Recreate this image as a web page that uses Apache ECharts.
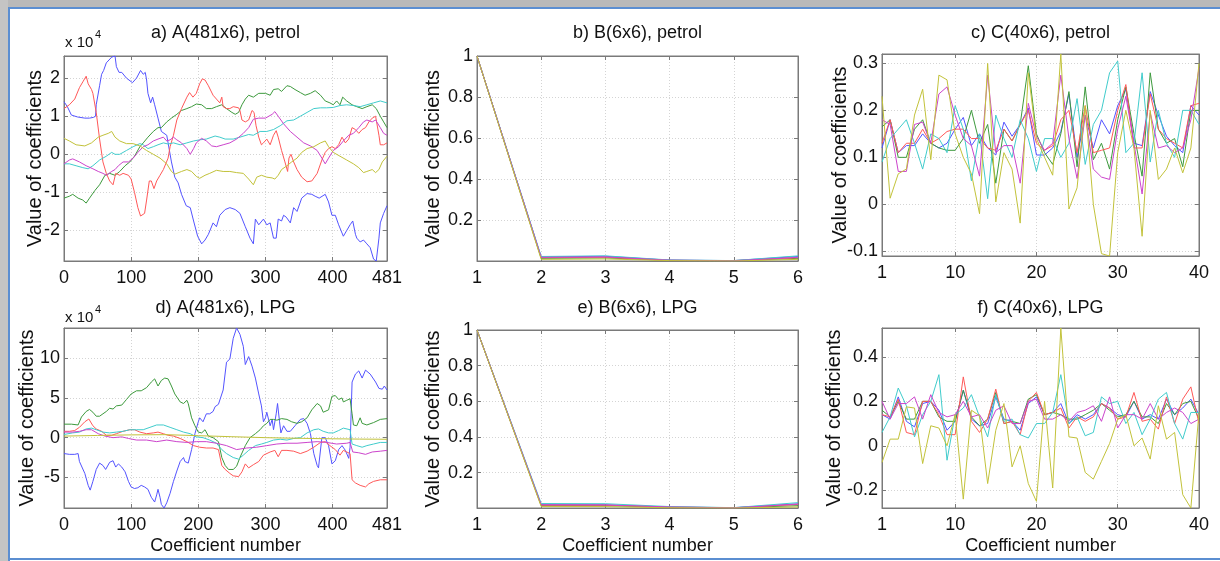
<!DOCTYPE html>
<html>
<head>
<meta charset="utf-8">
<script src="https://cdn.jsdelivr.net/npm/echarts@6/dist/echarts.min.js"></script>
<style>
  html, body { margin: 0; background: #fff; }
  #chart { width: 1220px; height: 561px; }
</style>
</head>
<body>
<div id="chart"></div>
<script>
// a) A(481x6), petrol -- [coefficient number, value x 10^4]
const aBlue = [[0,1.38],[5,1.25],[11,1.03],[20,0.98],[31,0.95],[38,0.95],[44,0.97],[47,1.0],[48,1.3],[53,1.8],[56,2.1],[59,2.2],[63,2.4],[71,2.55],[76,2.58],[78,2.3],[82,2.15],[86,2.15],[93,2.0],[102,1.88],[108,2.0],[114,2.2],[118,2.1],[121,2.15],[123,1.95],[125,1.6],[129,1.35],[132,1.5],[135,1.3],[140,0.95],[145,0.6],[153,0.5],[155,0.3],[160,-0.2],[165,-0.6],[170,-0.75],[175,-1.05],[182,-1.35],[188,-1.4],[193,-1.75],[199,-2.15],[205,-2.35],[210,-2.25],[215,-2.1],[222,-1.8],[227,-1.9],[232,-1.6],[240,-1.45],[247,-1.4],[255,-1.45],[262,-1.55],[270,-1.9],[277,-2.2],[282,-2.35],[285,-1.7],[290,-1.85],[297,-1.7],[302,-1.85],[307,-1.8],[312,-2.2],[316,-2.2],[319,-1.7],[324,-1.75],[327,-1.6],[331,-1.65],[337,-1.8],[342,-1.4],[347,-1.5],[354,-1.15],[362,-1.03],[369,-1.05],[374,-1.1],[380,-1.15],[389,-1.05],[394,-1.25],[399,-1.6],[404,-1.6],[409,-1.85],[416,-2.15],[421,-2.0],[426,-1.85],[430,-1.75],[434,-2.1],[436,-2.2],[441,-2.3],[446,-2.25],[451,-2.35],[456,-2.45],[461,-2.75],[465,-2.8],[469,-2.2],[471,-1.8],[476,-1.55],[481,-1.35]];
const aGreen = [[0,-1.15],[8,-1.1],[13,-1.05],[21,-1.15],[28,-1.2],[33,-1.28],[38,-1.15],[46,-0.95],[53,-0.8],[61,-0.55],[68,-0.5],[76,-0.55],[83,-0.45],[91,-0.3],[98,-0.2],[105,-0.05],[113,0.2],[118,0.3],[125,0.45],[133,0.6],[140,0.7],[145,0.7],[153,0.85],[160,0.95],[168,1.05],[175,1.15],[183,1.2],[190,1.25],[197,1.32],[205,1.3],[212,1.2],[220,1.2],[227,1.25],[235,1.3],[242,1.2],[250,1.1],[255,1.05],[260,1.1],[265,1.3],[270,1.45],[275,1.55],[282,1.5],[290,1.6],[300,1.6],[307,1.55],[312,1.7],[319,1.72],[324,1.65],[332,1.8],[337,1.78],[344,1.7],[352,1.62],[359,1.55],[367,1.6],[374,1.67],[382,1.55],[389,1.4],[396,1.35],[401,1.3],[406,1.4],[411,1.3],[415,1.5],[421,1.4],[429,1.3],[436,1.25],[444,1.2],[451,1.25],[459,1.3],[465,1.2],[471,1.0],[476,0.85],[481,0.7]];
const aRed = [[0,1.2],[8,1.3],[16,1.45],[23,1.75],[28,1.9],[33,2.05],[36,1.85],[41,1.7],[43,1.6],[48,1.1],[53,0.4],[58,-0.2],[63,-0.5],[68,-0.7],[73,-0.8],[77,-0.5],[83,-0.55],[88,-0.5],[96,-0.55],[100,-0.65],[105,-1.0],[110,-1.4],[114,-1.62],[120,-1.55],[123,-1.2],[127,-0.7],[130,-0.7],[134,-0.9],[138,-0.7],[143,-0.55],[148,-0.4],[150,-0.45],[155,-0.1],[158,0.2],[163,0.5],[168,0.9],[175,1.2],[183,1.5],[187,1.62],[192,1.5],[197,1.6],[202,1.85],[206,1.98],[210,1.95],[215,1.8],[222,1.55],[227,1.45],[232,1.35],[235,1.5],[237,1.25],[242,1.2],[247,1.2],[252,1.25],[260,1.22],[262,1.15],[265,0.9],[270,0.85],[275,0.9],[280,1.15],[283,1.1],[286,0.75],[290,0.45],[294,0.25],[297,0.3],[302,0.4],[307,0.25],[312,0.5],[316,0.62],[319,0.45],[324,0.1],[329,-0.2],[333,-0.45],[335,-0.1],[338,0.0],[342,-0.2],[347,-0.4],[354,-0.6],[362,-0.72],[369,-0.7],[377,-0.5],[384,-0.15],[389,0.05],[394,0.15],[399,0.2],[404,0.15],[409,0.25],[414,0.45],[419,0.3],[424,0.4],[429,0.7],[434,0.65],[439,0.55],[444,0.65],[449,0.7],[454,0.85],[459,0.95],[464,1.0],[469,0.5],[471,0.25],[476,0.25],[481,0.3]];
const aCyan = [[0,-0.25],[8,-0.25],[18,-0.3],[28,-0.35],[36,-0.38],[43,-0.3],[53,-0.15],[63,-0.05],[71,0.05],[76,0.0],[83,0.0],[93,0.1],[103,0.2],[113,0.28],[118,0.25],[125,0.15],[133,0.2],[140,0.25],[148,0.3],[155,0.27],[163,0.3],[173,0.25],[183,0.3],[193,0.35],[202,0.38],[212,0.4],[225,0.48],[232,0.45],[240,0.4],[252,0.4],[262,0.45],[275,0.52],[282,0.5],[292,0.6],[302,0.6],[312,0.65],[322,0.75],[332,0.88],[342,0.9],[352,1.0],[362,1.1],[372,1.2],[382,1.22],[391,1.22],[401,1.23],[411,1.28],[421,1.3],[431,1.28],[441,1.25],[451,1.3],[461,1.35],[471,1.4],[481,1.35]];
const aMagenta = [[0,-0.25],[8,-0.15],[13,-0.12],[23,-0.2],[33,-0.3],[43,-0.38],[51,-0.45],[58,-0.5],[63,-0.55],[71,-0.45],[76,-0.4],[81,-0.3],[88,-0.2],[96,-0.2],[103,-0.1],[110,0.05],[118,0.2],[125,0.25],[133,0.35],[140,0.4],[148,0.45],[153,0.35],[158,0.38],[163,0.45],[168,0.38],[175,0.3],[183,0.15],[188,0.0],[193,0.15],[197,0.3],[205,0.42],[212,0.35],[220,0.22],[227,0.2],[237,0.25],[247,0.3],[257,0.4],[267,0.55],[275,0.7],[282,0.92],[290,0.95],[300,0.95],[310,1.05],[314,1.12],[319,1.0],[327,0.8],[337,0.6],[347,0.45],[357,0.3],[367,0.22],[377,0.1],[384,-0.1],[389,-0.25],[394,-0.1],[401,0.1],[409,0.2],[416,0.35],[424,0.5],[431,0.55],[439,0.7],[446,0.85],[451,0.9],[459,0.85],[464,0.9],[466,0.95],[471,0.7],[476,0.55],[481,0.5]];
const aYellow = [[0,0.42],[8,0.35],[18,0.25],[31,0.22],[41,0.3],[51,0.45],[58,0.5],[66,0.55],[71,0.6],[76,0.45],[83,0.35],[93,0.28],[103,0.28],[113,0.22],[123,0.1],[133,0.0],[143,-0.1],[153,-0.25],[160,-0.45],[165,-0.52],[175,-0.45],[183,-0.4],[190,-0.45],[197,-0.58],[202,-0.63],[210,-0.55],[217,-0.5],[227,-0.42],[237,-0.45],[247,-0.45],[257,-0.48],[267,-0.5],[275,-0.65],[282,-0.8],[287,-0.6],[294,-0.55],[302,-0.6],[310,-0.62],[314,-0.65],[319,-0.55],[324,-0.4],[332,-0.3],[339,-0.2],[347,-0.1],[354,0.05],[362,0.15],[372,0.2],[382,0.3],[389,0.35],[394,0.2],[401,0.05],[411,-0.05],[421,-0.15],[431,-0.25],[439,-0.35],[446,-0.48],[451,-0.45],[459,-0.4],[464,-0.48],[469,-0.4],[474,-0.2],[481,-0.05]];

// b) B(6x6), petrol
const bBlue = [1, 0.022, 0.025, 0.006, 0.004, 0.024];
const bGreen = [1, 0.015, 0.017, 0.005, 0.003, 0.015];
const bRed = [1, 0.018, 0.02, 0.005, 0.004, 0.018];
const bCyan = [1, 0.024, 0.027, 0.007, 0.004, 0.027];
const bMagenta = [1, 0.02, 0.022, 0.006, 0.003, 0.02];
const bYellow = [1, 0.01, 0.012, 0.004, 0.002, 0.01];

// c) C(40x6), petrol
const cBlue = [0.12,0.18,0.11,0.125,0.125,0.15,0.13,0.12,0.13,0.16,0.185,0.125,0.15,0.12,0.105,0.175,0.145,0.17,0.205,0.105,0.105,0.12,0.155,0.235,0.1,0.19,0.12,0.18,0.15,0.21,0.245,0.13,0.125,0.24,0.19,0.145,0.125,0.11,0.21,0.19];
const cGreen = [0.165,0.18,0.1,0.1,0.16,0.18,0.13,0.12,0.115,0.115,0.14,0.2,0.13,0.17,0.045,0.16,0.135,0.17,0.295,0.15,0.11,0.085,0.15,0.24,0.08,0.25,0.095,0.13,0.075,0.18,0.25,0.15,0.06,0.28,0.16,0.13,0.14,0.08,0.2,0.2];
const cRed = [0.13,0.18,0.11,0.13,0.13,0.16,0.13,0.14,0.155,0.16,0.16,0.14,0.14,0.12,0.115,0.16,0.135,0.17,0.2,0.13,0.115,0.125,0.18,0.2,0.11,0.21,0.11,0.115,0.12,0.2,0.255,0.12,0.12,0.235,0.16,0.14,0.13,0.12,0.21,0.215];
const cCyan = [0.09,0.14,0.16,0.18,0.13,0.075,0.15,0.14,0.11,0.21,0.16,0.05,0.15,0.012,0.19,0.14,0.1,0.18,0.14,0.07,0.14,0.14,0.1,0.13,0.225,0.085,0.17,0.2,0.28,0.305,0.11,0.13,0.28,0.09,0.2,0.13,0.1,0.2,0.2,0.17];
const cMagenta = [0.18,0.17,0.07,0.07,0.17,0.175,0.13,0.235,0.25,0.19,0.14,0.125,0.06,0.275,0.11,0.125,0.125,0.045,0.215,0.145,0.115,0.13,0.275,0.14,0.055,0.19,0.075,0.058,0.053,0.16,0.23,0.13,0.022,0.195,0.12,0.125,0.11,0.12,0.18,0.29];
const cYellow = [0.23,0.013,0.065,0.075,0.19,0.245,0.095,0.275,0.265,0.15,0.1,0.065,-0.02,0.3,0.005,0.11,0.075,-0.04,0.28,0.14,0.1,0.062,0.32,-0.01,0.035,0.21,0.0,-0.105,-0.11,0.11,0.2,0.12,-0.068,0.2,0.053,0.075,0.12,0.067,0.12,0.3];

// d) A(481x6), LPG -- [coefficient number, value x 10^4]
const dBlue = [[0,-2.0],[8,-2.1],[16,-2.1],[21,-2.0],[23,-3.0],[31,-4.5],[36,-6.0],[39,-6.6],[43,-5.5],[48,-4.0],[53,-3.2],[58,-3.5],[62,-4.0],[68,-3.1],[73,-2.9],[77,-3.7],[81,-3.3],[86,-3.7],[91,-4.3],[96,-5.5],[100,-6.2],[105,-6.4],[110,-6.3],[115,-6.0],[120,-6.2],[125,-6.5],[130,-7.5],[135,-8.1],[138,-7.2],[140,-6.5],[143,-7.5],[145,-8.4],[149,-8.85],[153,-8.2],[158,-7.0],[163,-5.5],[168,-4.2],[173,-3.0],[178,-2.5],[180,-3.0],[185,-3.2],[190,-1.5],[195,0.5],[200,2.0],[202,2.5],[207,2.0],[212,3.0],[217,3.0],[222,3.3],[225,3.9],[230,4.2],[232,4.1],[237,6.0],[242,9.5],[247,9.9],[252,12.5],[257,13.8],[262,13.0],[267,11.5],[270,9.2],[275,10.2],[280,9.0],[285,7.5],[290,5.5],[294,4.0],[297,2.0],[300,2.5],[302,3.2],[307,1.5],[310,2.3],[312,1.0],[316,3.0],[318,4.3],[321,2.0],[323,0.6],[327,1.5],[332,0.8],[337,0.8],[344,1.5],[352,2.3],[357,2.4],[362,1.8],[367,0.5],[372,-2.0],[377,-3.5],[379,-3.8],[384,0.0],[389,0.0],[394,-1.0],[399,-3.3],[404,-2.9],[409,-1.5],[414,-1.0],[419,-1.6],[424,-2.6],[426,-1.2],[429,7.0],[434,8.0],[439,8.4],[444,7.5],[449,8.5],[451,8.7],[456,8.0],[464,7.0],[469,6.2],[474,6.1],[477,6.5],[481,6.0]];
const dGreen = [[0,1.7],[11,1.7],[21,1.6],[26,2.6],[33,3.3],[38,3.55],[43,3.2],[48,2.7],[53,2.7],[58,3.0],[63,3.3],[68,3.7],[73,3.6],[78,4.0],[86,4.1],[93,4.8],[100,5.5],[108,5.9],[115,5.9],[123,6.3],[130,7.0],[135,7.4],[140,6.5],[145,7.2],[150,7.5],[155,7.4],[160,6.5],[165,5.5],[173,4.5],[178,4.3],[183,4.7],[185,4.3],[190,2.5],[195,1.5],[200,0.7],[205,0.6],[210,1.0],[215,0.2],[222,0.0],[230,-0.5],[235,-2.5],[240,-3.5],[245,-4.0],[252,-4.0],[257,-3.6],[262,-2.5],[270,-1.0],[277,0.0],[285,0.5],[292,1.0],[297,1.5],[302,1.8],[307,2.3],[312,2.3],[317,2.2],[324,2.4],[332,2.3],[339,2.0],[347,1.8],[354,2.0],[362,2.5],[369,3.5],[377,4.3],[382,4.0],[386,3.2],[394,3.5],[399,5.2],[404,5.3],[409,4.8],[414,5.0],[416,4.5],[421,4.7],[426,4.9],[429,3.0],[431,1.6],[436,1.5],[441,2.5],[444,1.8],[451,1.6],[461,1.9],[471,2.3],[481,2.4]];
const dRed = [[0,0.8],[8,0.8],[16,0.9],[23,1.3],[31,2.0],[37,2.35],[43,1.5],[48,1.1],[56,0.8],[63,0.3],[71,0.3],[78,0.5],[88,0.8],[98,1.0],[105,1.0],[113,0.7],[123,0.5],[133,0.6],[140,0.7],[148,0.5],[155,0.3],[163,0.2],[173,-0.1],[183,-0.5],[193,-1.0],[202,-1.2],[212,-1.3],[222,-1.3],[230,-1.5],[235,-3.5],[240,-4.0],[247,-4.5],[252,-4.8],[260,-4.9],[265,-4.3],[270,-3.3],[275,-3.8],[282,-3.4],[290,-3.0],[297,-2.2],[307,-1.8],[314,-1.6],[319,-2.4],[324,-1.6],[332,-1.6],[342,-1.7],[352,-2.0],[362,-1.7],[372,-1.2],[382,-0.6],[389,-0.5],[396,-1.0],[404,-1.5],[411,-2.2],[416,-1.6],[421,-1.8],[426,-2.0],[429,-5.3],[434,-5.7],[441,-6.0],[449,-6.2],[454,-5.8],[461,-5.5],[471,-5.3],[481,-5.3]];
const dCyan = [[0,0.4],[13,0.6],[23,0.7],[33,1.1],[41,1.2],[48,1.0],[58,0.7],[68,0.6],[78,0.7],[88,0.8],[98,1.0],[108,1.0],[118,1.0],[128,1.3],[138,1.6],[148,1.6],[158,1.3],[168,1.0],[178,0.7],[188,0.5],[197,0.1],[207,0.0],[217,-0.3],[227,-0.7],[235,-1.5],[242,-2.0],[252,-2.5],[260,-2.7],[267,-2.2],[275,-1.6],[285,-1.0],[294,-0.8],[302,-0.6],[312,-0.3],[322,-0.2],[332,-0.3],[342,-0.1],[352,0.0],[362,0.6],[372,1.0],[379,1.1],[386,0.8],[394,0.6],[401,0.6],[409,0.9],[416,1.2],[426,1.0],[429,-0.8],[436,-1.0],[444,-1.2],[451,-1.0],[461,-0.8],[471,-0.6],[481,-0.6]];
const dMagenta = [[0,0.7],[13,0.7],[23,0.8],[33,1.0],[41,1.0],[51,0.5],[61,0.2],[73,0.0],[86,0.1],[96,-0.1],[108,-0.3],[123,-0.3],[138,-0.5],[153,-0.3],[168,-0.5],[183,-0.6],[197,-0.5],[212,-0.5],[227,-0.7],[242,-1.0],[257,-1.5],[272,-1.3],[287,-1.2],[302,-1.0],[317,-0.8],[332,-0.7],[347,-0.7],[362,-0.6],[377,-0.5],[391,-0.6],[406,-0.8],[421,-0.7],[426,-0.6],[430,-1.8],[439,-1.9],[449,-2.1],[459,-1.8],[471,-1.7],[481,-1.6]];
const dYellow = [[0,0.2],[50,0.28],[100,0.35],[150,0.38],[200,0.25],[250,0.12],[300,0.0],[350,-0.08],[400,-0.14],[440,-0.18],[481,-0.2]];

// e) B(6x6), LPG
const eBlue = [1, 0.02, 0.02, 0.007, 0.004, 0.025];
const eGreen = [1, 0.015, 0.015, 0.006, 0.003, 0.015];
const eRed = [1, 0.018, 0.018, 0.007, 0.003, 0.022];
const eCyan = [1, 0.027, 0.026, 0.01, 0.004, 0.032];
const eMagenta = [1, 0.02, 0.019, 0.008, 0.003, 0.024];
const eYellow = [1, 0.01, 0.01, 0.003, 0.002, 0.008];

// f) C(40x6), LPG
const fBlue = [0.14,0.12,0.22,0.11,0.085,0.19,0.2,0.16,0.07,0.11,0.25,0.12,0.09,0.1,0.22,0.12,0.11,0.07,0.19,0.22,0.14,0.15,0.19,0.1,0.14,0.12,0.14,0.19,0.17,0.14,0.13,0.2,0.12,0.14,0.12,0.21,0.14,0.17,0.21,0.14];
const fGreen = [0.16,0.13,0.2,0.12,0.12,0.2,0.2,0.13,0.11,0.11,0.25,0.13,0.09,0.12,0.24,0.1,0.11,0.1,0.21,0.23,0.14,0.15,0.14,0.12,0.12,0.14,0.16,0.19,0.16,0.13,0.14,0.2,0.13,0.13,0.1,0.19,0.14,0.19,0.2,0.12];
const fRed = [0.14,0.13,0.21,0.06,0.05,0.2,0.2,0.14,0.05,0.05,0.31,0.11,0.06,0.12,0.255,0.1,0.11,0.05,0.2,0.24,0.14,0.15,0.17,0.08,0.13,0.11,0.13,0.19,0.17,0.12,0.13,0.24,0.11,0.12,0.075,0.22,0.1,0.21,0.265,0.1];
const fCyan = [0.06,0.13,0.26,0.18,0.04,0.14,0.2,0.32,-0.065,0.14,0.17,0.23,0.13,0.04,0.23,0.11,0.12,0.05,0.035,0.1,0.1,0.15,0.32,0.1,0.13,0.045,0.06,0.22,0.19,0.2,0.1,0.15,0.05,0.12,0.21,0.24,0.1,0.03,0.15,0.15];
const fMagenta = [0.2,0.12,0.19,0.19,0.22,0.12,0.23,0.15,0.13,0.14,0.2,0.13,0.14,0.08,0.16,0.18,0.1,0.1,0.2,0.21,0.12,0.12,0.14,0.11,0.15,0.16,0.18,0.11,0.22,0.08,0.14,0.14,0.12,0.19,0.12,0.15,0.17,0.15,0.1,0.12];
const fYellow = [-0.075,0.03,0.03,0.175,0.17,-0.08,0.09,0.08,0.0,0.14,-0.24,0.16,0.135,-0.17,0.07,0.19,-0.095,0.0,-0.17,-0.25,0.2,-0.19,0.53,0.04,0.035,-0.12,-0.15,-0.07,0.01,0.12,0.14,0.0,0.035,-0.06,0.18,0.03,0.06,-0.22,-0.28,0.15];

// tick values
const aXTicks = [0, 100, 200, 300, 400, 481];
const aYTicks = [-2, -1, 0, 1, 2];
const bXTicks = [1, 2, 3, 4, 5, 6];
const bYTicks = [0.2, 0.4, 0.6, 0.8, 1];
const cXTicks = [1, 10, 20, 30, 40];
const cYTicks = [-0.1, 0, 0.1, 0.2, 0.3];
const dYTicks = [-5, 0, 5, 10];
const fYTicks = [-0.2, 0, 0.2, 0.4];

const colors = ['#5353ff', '#3d9a3d', '#ff5858', '#40cccc', '#cc44cc', '#c2c23a'];
const FONT = 'Liberation Sans, Arial, sans-serif';

const toPairs = arr => arr.map((v, i) => [i + 1, v]);

const panels = [
  { title: 'a) A(481x6), petrol', lines: [aBlue, aGreen, aRed, aCyan, aMagenta, aYellow],
    xTicks: aXTicks, yTicks: aYTicks, box: [64, 56, 323, 205], yGap: 19, xName: '' },
  { title: 'b) B(6x6), petrol', lines: [bBlue, bGreen, bRed, bCyan, bMagenta, bYellow].map(toPairs),
    xTicks: bXTicks, yTicks: bYTicks, box: [477, 56, 321, 205], yGap: 34, xName: '' },
  { title: 'c) C(40x6), petrol', lines: [cBlue, cGreen, cRed, cCyan, cMagenta, cYellow].map(toPairs),
    xTicks: cXTicks, yTicks: cYTicks, box: [882, 54, 317, 202], yGap: 32, xName: '' },
  { title: 'd) A(481x6), LPG', lines: [dBlue, dGreen, dRed, dCyan, dMagenta, dYellow],
    xTicks: aXTicks, yTicks: dYTicks, box: [64, 328, 323, 180], yGap: 27, xName: 'Coefficient number' },
  { title: 'e) B(6x6), LPG', lines: [eBlue, eGreen, eRed, eCyan, eMagenta, eYellow].map(toPairs),
    xTicks: bXTicks, yTicks: bYTicks, box: [477, 330, 321, 178], yGap: 34, xName: 'Coefficient number' },
  { title: 'f) C(40x6), LPG', lines: [fBlue, fGreen, fRed, fCyan, fMagenta, fYellow].map(toPairs),
    xTicks: cXTicks, yTicks: fYTicks, box: [882, 328, 317, 180], yGap: 38, xName: 'Coefficient number' }
];

const grid = [], xAxis = [], yAxis = [], series = [], graphic = [];

// window frame
graphic.push(
  { type: 'rect', shape: { x: 0, y: 0, width: 1220, height: 7 }, style: { fill: '#b9b9b9' }, silent: true },
  { type: 'rect', shape: { x: 0, y: 0, width: 8, height: 561 }, style: { fill: '#c4c4c4' }, silent: true },
  { type: 'rect', shape: { x: 8, y: 7, width: 1212, height: 2 }, style: { fill: '#5b8ed1' }, silent: true },
  { type: 'rect', shape: { x: 8, y: 7, width: 2, height: 554 }, style: { fill: '#5b8ed1' }, silent: true },
  { type: 'rect', shape: { x: 8, y: 558, width: 1212, height: 2 }, style: { fill: '#5b8ed1' }, silent: true }
);

const axisCommon = (ticks, show, margin) => ({
  type: 'value',
  nameMoveOverlap: false,
  axisLine: { show: true, onZero: false, lineStyle: { color: '#7a7a7a', width: 1 } },
  axisTick: { show: true, inside: true, length: 4, customValues: ticks, lineStyle: { color: '#7a7a7a' } },
  axisLabel: { show: show, margin: margin, customValues: ticks, color: '#111', fontSize: 18, fontFamily: FONT,
    formatter: v => String(v) },
  splitLine: { show: show, lineStyle: { color: '#d4d4d4', type: [1, 2], width: 1 } }
});

panels.forEach((p, i) => {
  const [left, top, width, height] = p.box;
  grid.push({ left, top, width, height, show: true, borderColor: '#7a7a7a', borderWidth: 1, backgroundColor: '#fff' });

  const xs = p.lines.flat().map(d => d[0]);
  const ys = p.lines.flat().map(d => d[1]);
  const xMin = Math.min(...xs), xMax = Math.max(...xs);
  const yMin = Math.min(...ys), yMax = Math.max(...ys);

  xAxis.push(Object.assign(axisCommon(p.xTicks, true, 8), {
    gridIndex: i, position: 'bottom', min: xMin, max: xMax,
    name: p.xName, nameLocation: 'middle', nameGap: 29,
    nameTextStyle: { fontSize: 18, fontFamily: FONT, color: '#111' }
  }));
  xAxis.push(Object.assign(axisCommon(p.xTicks, false, 8), { gridIndex: i, position: 'top', min: xMin, max: xMax }));

  yAxis.push(Object.assign(axisCommon(p.yTicks, true, 4), {
    gridIndex: i, position: 'left', min: yMin, max: yMax,
    name: 'Value of coefficients', nameLocation: 'middle', nameGap: p.yGap,
    nameTextStyle: { fontSize: 20, fontFamily: FONT, color: '#111' }
  }));
  yAxis.push(Object.assign(axisCommon(p.yTicks, false, 4), { gridIndex: i, position: 'right', min: yMin, max: yMax }));

  p.lines.forEach((data, k) => {
    series.push({
      type: 'line', xAxisIndex: 2 * i, yAxisIndex: 2 * i, data: data,
      showSymbol: false, symbol: 'none', animation: false, silent: true,
      lineStyle: { color: colors[k], width: 1 }
    });
  });

  graphic.push({
    type: 'text', x: left + width / 2, y: i < 3 ? 33 : 308,
    style: { text: p.title, fill: '#111', font: '18px ' + FONT, align: 'center', verticalAlign: 'middle' },
    silent: true
  });
});

// x 10^4 multipliers for the A panels
[[65, 43], [65, 318]].forEach(([x, y]) => {
  graphic.push(
    { type: 'text', x: x, y: y, style: { text: 'x 10', fill: '#111', font: '15px ' + FONT, align: 'left', verticalAlign: 'middle' }, silent: true },
    { type: 'text', x: x + 30, y: y - 8, style: { text: '4', fill: '#111', font: '11px ' + FONT, align: 'left', verticalAlign: 'middle' }, silent: true }
  );
});

const chart = echarts.init(document.getElementById('chart'), null, { renderer: 'canvas' });
chart.setOption({
  backgroundColor: '#fff',
  animation: false,
  textStyle: { fontFamily: FONT },
  grid, xAxis, yAxis, series, graphic
});
</script>
</body>
</html>
